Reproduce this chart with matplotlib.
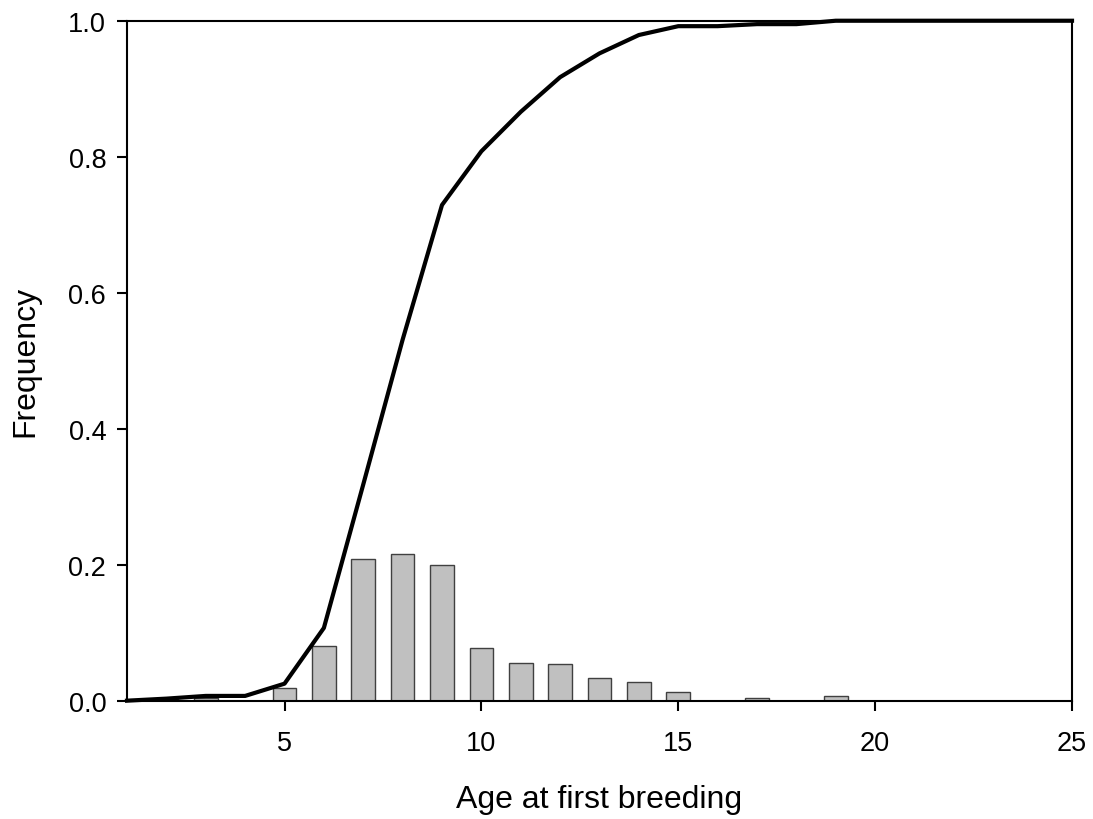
import matplotlib
matplotlib.use("Agg")
import matplotlib.pyplot as plt
import numpy as np

plt.rcParams['font.family'] = ['Liberation Sans', 'DejaVu Sans']

# frequency of age at first breeding (bars)
ages = np.arange(1, 26)
freq = [0.0, 0.002, 0.004, 0.0, 0.019, 0.081, 0.208, 0.215, 0.200, 0.077,
        0.056, 0.054, 0.034, 0.028, 0.013, 0.0, 0.0035, 0.0, 0.0065, 0.0,
        0.0, 0.0, 0.0, 0.0, 0.0]

# cumulative frequency (line)
cumul = [0.0, 0.003, 0.007, 0.007, 0.025, 0.107, 0.318, 0.531, 0.729, 0.808,
         0.866, 0.917, 0.952, 0.979, 0.992, 0.992, 0.995, 0.995, 1.0, 1.0,
         1.0, 1.0, 1.0, 1.0, 1.0]

xticks = [5, 10, 15, 20, 25]
yticks = [0.0, 0.2, 0.4, 0.6, 0.8, 1.0]

fig = plt.figure(figsize=(10.93, 8.2), dpi=100)
ax = fig.add_axes([0.1162, 0.1443, 0.8646, 0.8292])

ax.bar(ages, freq, width=0.6, color='#c0c0c0', edgecolor='#404040', linewidth=1.0, zorder=2)
ax.plot(ages, cumul, color='black', linewidth=3, clip_on=False, zorder=3)

ax.set_xlim(1, 25)
ax.set_ylim(0, 1)
ax.set_xticks(xticks)
ax.set_yticks(yticks)
ax.set_yticklabels(["%.1f" % v for v in yticks])

for s in ax.spines.values():
    s.set_linewidth(1.5)
ax.tick_params(direction='out', length=7, width=1.5, labelsize=19.5)
ax.tick_params(axis='y', pad=8)
ax.tick_params(axis='x', pad=14)

ax.set_xlabel("Age at first breeding", fontsize=23, labelpad=20)
ax.set_ylabel("Frequency", fontsize=23, labelpad=20)

fig.savefig("out.png", dpi=100)
